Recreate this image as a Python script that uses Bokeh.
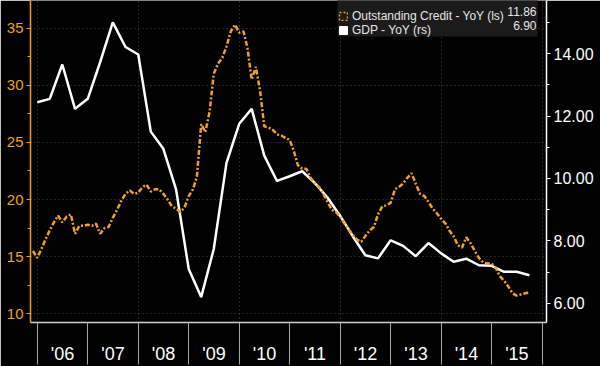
import pandas as pd
from bokeh.plotting import figure
from bokeh.models import (Range1d, LinearAxis, FixedTicker, PrintfTickFormatter,
                          Legend, LegendItem, Label, ColumnDataSource, BoxAnnotation)
from bokeh.embed import file_html
from bokeh.resources import INLINE

# ---------------- data ----------------
credit_start = "2005-11-30"   # monthly, month end
credit_yoy = [
    15.5, 14.9,
    15.7, 16.5, 17.3, 18.0, 18.6, 18.0, 18.5, 18.7, 17.0, 17.7, 17.7, 17.8,
    17.7, 17.9, 17.0, 17.5, 17.6, 18.4, 19.1, 19.9, 20.5, 20.8, 20.5, 20.6,
    21.1, 21.3, 20.7, 20.9, 20.9, 20.5, 20.0, 19.4, 19.2, 18.9, 19.3, 20.3,
    20.9, 22.0, 26.6, 25.9, 27.7, 31.0, 31.9, 32.4, 33.4, 34.7, 35.3, 34.6,
    34.7, 33.3, 30.5, 31.6, 29.5, 26.4, 26.3, 26.1, 25.7, 25.6, 25.4, 25.2,
    24.2, 23.0, 22.7, 22.7, 21.9, 21.4, 21.1, 20.5, 19.8, 19.1, 18.9, 18.5,
    17.9, 17.4, 16.9, 16.5, 16.3, 16.8, 17.3, 17.6, 18.7, 19.4, 19.5, 19.7,
    20.9, 21.1, 21.4, 21.9, 22.3, 21.4, 20.5, 20.3, 19.8, 19.2, 18.8, 18.3,
    17.9, 17.3, 16.8, 16.0, 15.8, 16.7, 16.2, 15.5, 14.9, 14.5, 14.4, 14.4,
    14.0, 13.3, 12.9, 12.4, 11.8, 11.6, 11.7, 11.8, 11.86,
]

gdp_start = "2005-12-31"      # quarterly, quarter end
gdp_yoy = [
    12.44, 12.55, 13.65, 12.23, 12.55, 13.73, 15.0, 14.21, 13.97, 11.5,
    10.95, 9.65, 7.1, 6.2, 7.74, 10.5, 11.75, 12.23, 10.73, 9.92,
    10.07, 10.23, 9.86, 9.39, 8.8, 8.15, 7.54, 7.44, 8.02, 7.84,
    7.51, 7.93, 7.6, 7.33, 7.43, 7.22, 7.2, 7.01, 7.01, 6.9,
]

years = [2006, 2007, 2008, 2009, 2010, 2011, 2012, 2013, 2014, 2015]
year_labels = ["'06", "'07", "'08", "'09", "'10", "'11", "'12", "'13", "'14", "'15"]
left_ticks = [10, 15, 20, 25, 30, 35]
left_minor = [12.5, 17.5, 22.5, 27.5, 32.5]
right_ticks = [6, 8, 10, 12, 14]
right_minor = [7, 9, 11, 13, 15]
grid_years = [2006, 2008, 2010, 2012, 2014, 2016]

credit_name = "Outstanding Credit - YoY (ls)"
gdp_name = "GDP - YoY (rs)"

X_START, X_END = 2005.866, 2016.086
L_START, L_END = 9.244, 37.41
R_START, R_END = 5.386, 15.70

ORANGE = "#eea02c"
FONT = "Liberation Sans"


def decimal_year(dates):
    return [d.year + d.dayofyear / (366 if d.is_leap_year else 365) for d in dates]


credit_x = decimal_year(pd.date_range(credit_start, periods=len(credit_yoy), freq="ME"))
gdp_x = decimal_year(pd.date_range(gdp_start, periods=len(gdp_yoy), freq="QE"))

# ---------------- figure ----------------
p = figure(width=600, height=366, output_backend="svg", toolbar_location=None,
           x_range=Range1d(X_START, X_END), y_range=Range1d(L_START, L_END),
           background_fill_color="black", border_fill_color="black",
           min_border_left=30, min_border_right=54, min_border_top=0,
           min_border_bottom=41)
p.outline_line_color = None
p.extra_y_ranges = {"gdp": Range1d(R_START, R_END)}

# grids
p.xgrid.ticker = FixedTicker(ticks=grid_years)
p.ygrid.ticker = FixedTicker(ticks=left_ticks)
for g in (p.xgrid[0], p.ygrid[0]):
    g.grid_line_color = "#4a4a4a"
    g.grid_line_dash = "1 3"
    g.grid_line_width = 1

# left axis
ya = p.yaxis[0]
ya.ticker = FixedTicker(ticks=left_ticks, minor_ticks=left_minor)
ya.axis_line_color = ORANGE
ya.axis_line_width = 1.5
ya.major_tick_line_color = ORANGE
ya.minor_tick_line_color = ORANGE
ya.major_tick_out = 4
ya.major_tick_in = 0
ya.minor_tick_out = 3
ya.minor_tick_in = 0
ya.major_label_text_color = ORANGE
ya.major_label_text_font = FONT
ya.major_label_text_font_size = "15px"
ya.major_label_standoff = 3

# bottom axis
xa = p.xaxis[0]
xa.ticker = FixedTicker(ticks=[y + 0.5 for y in years], minor_ticks=years + [years[-1] + 1])
xa.major_label_overrides = {y + 0.5: lab for y, lab in zip(years, year_labels)}
xa.axis_line_color = "#cfcfcf"
xa.axis_line_width = 1.5
xa.major_tick_out = 0
xa.major_tick_in = 0
xa.minor_tick_out = 42
xa.minor_tick_in = 0
xa.minor_tick_line_color = "#a8a8a8"
xa.major_label_standoff = -21
xa.major_label_text_color = "white"
xa.major_label_text_font = FONT
xa.major_label_text_font_size = "18px"

# right axis
ra = LinearAxis(y_range_name="gdp",
                ticker=FixedTicker(ticks=right_ticks, minor_ticks=right_minor),
                formatter=PrintfTickFormatter(format="%.2f"))
ra.axis_line_color = "white"
ra.axis_line_width = 1.5
ra.major_tick_line_color = "white"
ra.minor_tick_line_color = "white"
ra.major_tick_out = 4
ra.major_tick_in = 0
ra.minor_tick_out = 3
ra.minor_tick_in = 0
ra.major_label_text_color = "white"
ra.major_label_text_font = FONT
ra.major_label_text_font_size = "16px"
ra.major_label_standoff = 3
p.add_layout(ra, "right")

# legend background panel (drawn under the series, over the grid)
p.add_layout(BoxAnnotation(left=307, right=507, top=324, bottom=286,
                           left_units="screen", right_units="screen",
                           top_units="screen", bottom_units="screen",
                           fill_color="#1b1b1b", fill_alpha=1, line_color=None,
                           level="underlay"))

# series
src_g = ColumnDataSource(dict(x=gdp_x, y=gdp_yoy))
src_c = ColumnDataSource(dict(x=credit_x, y=credit_yoy))
p.line("x", "y", source=src_g, y_range_name="gdp", line_color="white", line_width=2.5)
p.line("x", "y", source=src_c, line_color=ORANGE, line_width=2.5, line_dash="5 2 2 2")

# legend swatches: hidden zero-size quads on the series' own data
proxy_c = p.quad(left="x", right="x", top="y", bottom="y", source=src_c,
                 fill_alpha=0, line_color=ORANGE, line_dash="2 2", line_width=1.5,
                 visible=False)
proxy_g = p.quad(left="x", right="x", top="y", bottom="y", source=src_g,
                 y_range_name="gdp", fill_color="white", line_color="white",
                 visible=False)

legend = Legend(items=[LegendItem(label=credit_name, renderers=[proxy_c]),
                       LegendItem(label=gdp_name, renderers=[proxy_g])],
                location=(308, 285))
legend.background_fill_alpha = 0
legend.border_line_color = None
legend.inactive_fill_alpha = 0
legend.padding = 5
legend.spacing = 0
legend.margin = 0
legend.label_height = 14
legend.glyph_height = 10
legend.glyph_width = 10
legend.label_standoff = 4
legend.label_text_font = FONT
legend.label_text_font_size = "12px"
legend.label_text_color = "#e6e6e6"
legend.click_policy = "none"
p.add_layout(legend)

for txt, yy in ((f"{credit_yoy[-1]:.2f}", 311), (f"{gdp_yoy[-1]:.2f}", 297)):
    p.add_layout(Label(x=506, y=yy, x_units="screen", y_units="screen", text=txt,
                       text_align="right", text_baseline="middle", level="overlay",
                       text_font=FONT, text_font_size="12px", text_color="#e6e6e6"))

open("out.html", "w").write(file_html(p, INLINE))
